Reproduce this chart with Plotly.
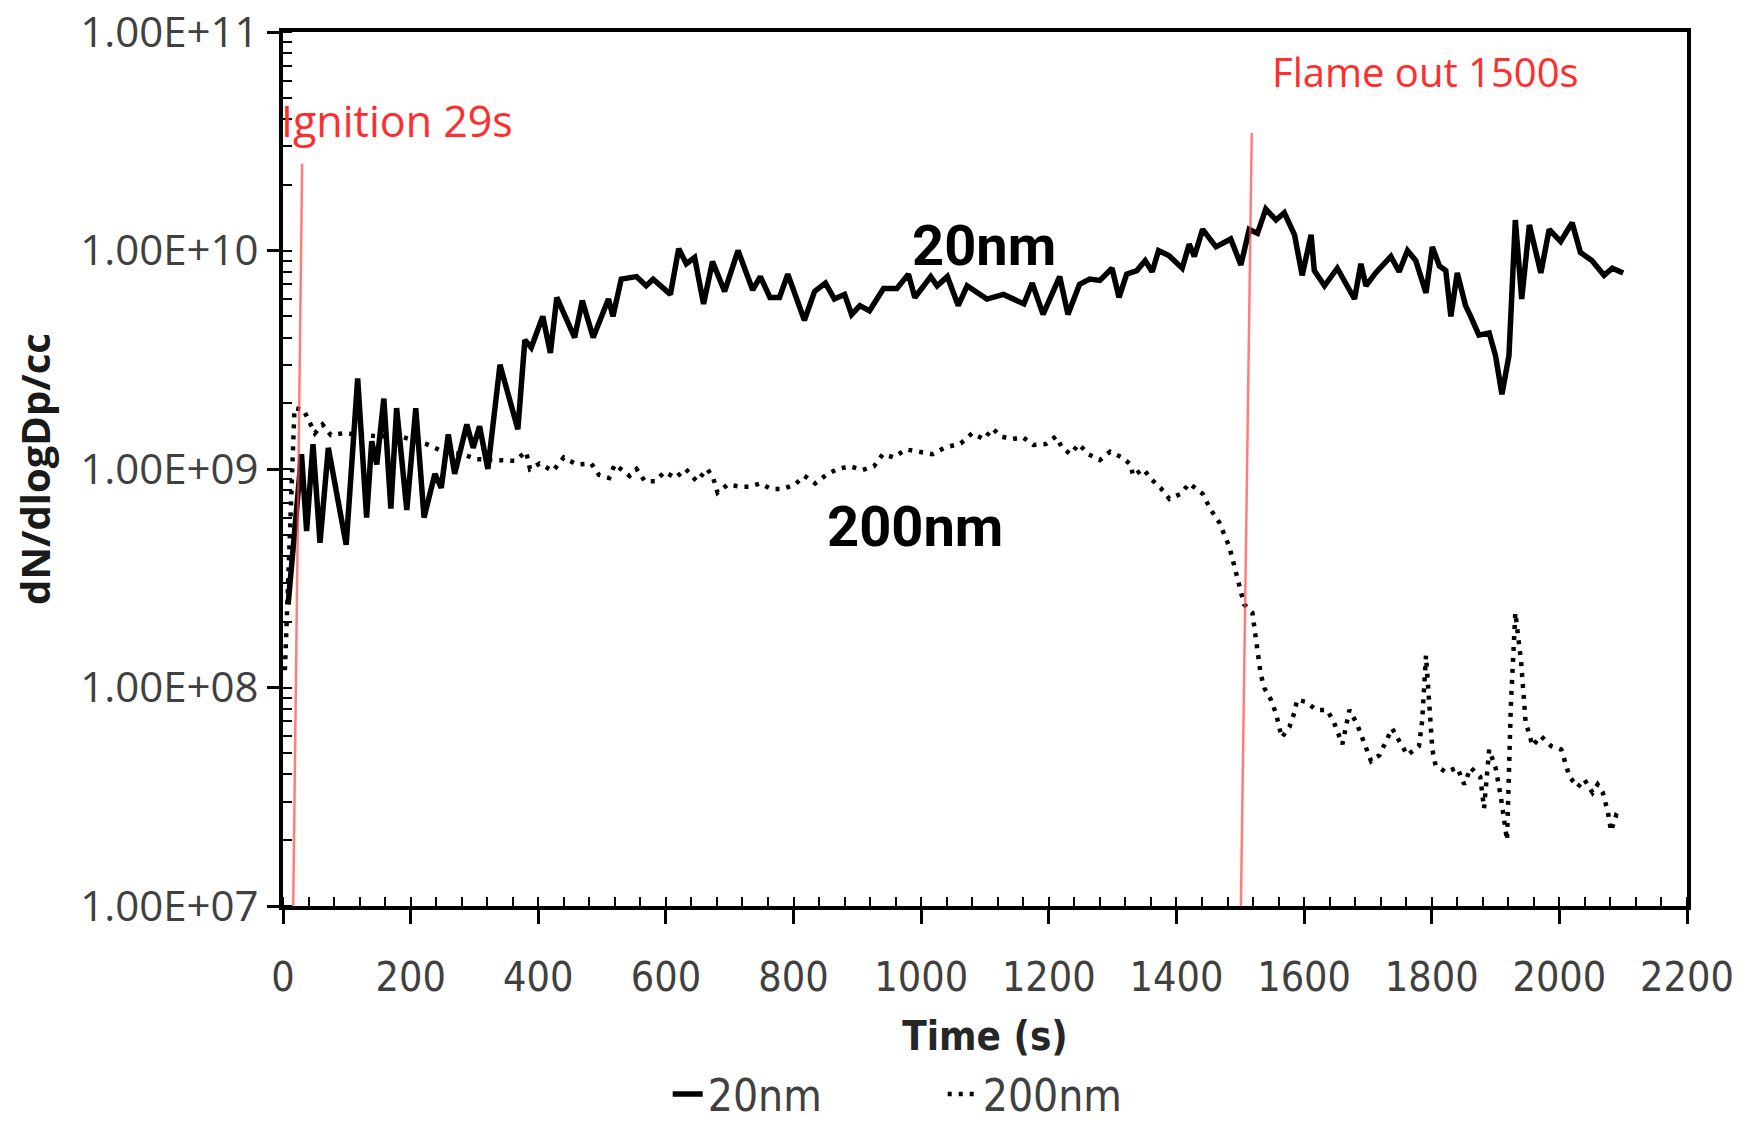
import plotly.graph_objects as go

# ---------------- data ----------------
time_20nm = [8, 29, 37, 47, 58, 71, 99, 117, 131, 139, 147, 158, 169, 178, 194, 208, 221, 238,
             248, 259, 269, 288, 298, 308, 321, 340, 368, 379, 389, 407, 419, 429, 457, 469,
             486, 510, 517, 530, 554, 569, 580, 607, 620, 632, 645, 659, 673, 692, 713, 736,
             748, 763, 778, 791, 817, 833, 850, 864, 880, 891, 904, 919, 941, 962, 980, 990,
             1015, 1025, 1041, 1058, 1072, 1103, 1129, 1161, 1174, 1191, 1217, 1230, 1248,
             1264, 1280, 1299, 1310, 1322, 1338, 1351, 1362, 1372, 1388, 1409, 1420, 1428,
             1441, 1462, 1485, 1501, 1514, 1527, 1540, 1556, 1569, 1585, 1597, 1611, 1616,
             1632, 1652, 1679, 1689, 1697, 1712, 1736, 1749, 1762, 1775, 1791, 1801, 1812,
             1822, 1830, 1840, 1853, 1861, 1874, 1890, 1900, 1910, 1921, 1931, 1941, 1953,
             1971, 1984, 2002, 2020, 2033, 2051, 2070, 2083, 2100]
conc_20nm = [2.4e8, 1.17e9, 5.2e8, 1.3e9, 4.6e8, 1.25e9, 4.5e8, 2.6e9, 6.0e8, 1.34e9, 1.05e9,
             2.1e9, 6.6e8, 1.9e9, 6.5e8, 1.9e9, 6.0e8, 9.5e8, 8.2e8, 1.44e9, 9.5e8, 1.6e9,
             1.25e9, 1.57e9, 1.0e9, 3.0e9, 1.52e9, 3.9e9, 3.6e9, 5.0e9, 3.4e9, 6.1e9, 4.0e9,
             5.9e9, 4.0e9, 6.0e9, 5.0e9, 7.4e9, 7.6e9, 6.9e9, 7.4e9, 6.3e9, 1.02e10, 8.7e9,
             9.3e9, 5.7e9, 8.9e9, 6.5e9, 1.0e10, 6.6e9, 7.6e9, 6.1e9, 6.1e9, 7.8e9, 4.8e9,
             6.5e9, 7.1e9, 6.0e9, 6.3e9, 5.1e9, 5.6e9, 5.3e9, 6.7e9, 6.7e9, 7.8e9, 6.1e9,
             7.6e9, 6.9e9, 7.6e9, 5.6e9, 6.9e9, 6.0e9, 6.3e9, 5.7e9, 7.1e9, 5.1e9, 7.6e9,
             5.1e9, 7.0e9, 7.4e9, 7.3e9, 8.3e9, 6.1e9, 7.8e9, 8.1e9, 9.0e9, 8.0e9, 1.0e10,
             9.5e9, 8.3e9, 1.07e10, 9.4e9, 1.25e10, 1.04e10, 1.13e10, 8.6e9, 1.25e10, 1.2e10,
             1.55e10, 1.38e10, 1.49e10, 1.18e10, 7.7e9, 1.18e10, 8.1e9, 6.9e9, 8.3e9, 6.0e9,
             8.7e9, 6.9e9, 7.9e9, 9.4e9, 8.0e9, 1.0e10, 9.0e9, 6.4e9, 1.04e10, 8.5e9, 8.1e9,
             5.0e9, 7.9e9, 5.6e9, 5.0e9, 4.1e9, 4.2e9, 3.3e9, 2.2e9, 3.3e9, 1.38e10, 6.0e9,
             1.31e10, 7.9e9, 1.25e10, 1.1e10, 1.34e10, 9.8e9, 9.0e9, 7.7e9, 8.3e9, 7.9e9]

time_200nm = [3, 18, 32, 41, 50, 62, 75, 95, 140, 188, 225, 251, 282, 303, 345, 363, 381, 387,
              402, 423, 440, 460, 483, 495, 511, 520, 543, 554, 567, 583, 598, 615, 631, 648,
              665, 674, 681, 697, 716, 731, 748, 765, 783, 802, 817, 834, 851, 869, 888, 908,
              926, 940, 957, 976, 996, 1018, 1036, 1062, 1080, 1098, 1112, 1125, 1143, 1159,
              1176, 1195, 1211, 1221, 1234, 1247, 1262, 1280, 1296, 1315, 1328, 1332, 1348,
              1362, 1375, 1389, 1407, 1420, 1441, 1454, 1467, 1483, 1494, 1506, 1519, 1525,
              1532, 1538, 1548, 1556, 1565, 1577, 1585, 1589, 1603, 1619, 1636, 1647, 1660,
              1671, 1683, 1691, 1705, 1718, 1728, 1738, 1749, 1762, 1780, 1785, 1791, 1798,
              1801, 1806, 1822, 1840, 1851, 1861, 1876, 1882, 1890, 1900, 1908, 1918, 1924,
              1931, 1940, 1947, 1958, 1971, 1987, 2003, 2016, 2029, 2039, 2052, 2060, 2068,
              2076, 2081, 2089, 2100]
conc_200nm = [1.2e8, 1.9e9, 1.87e9, 1.63e9, 1.46e9, 1.6e9, 1.43e9, 1.46e9, 1.42e9, 1.4e9,
              1.3e9, 1.2e9, 1.17e9, 1.11e9, 1.09e9, 1.09e9, 1.2e9, 1.0e9, 1.06e9, 9.8e8,
              1.13e9, 1.05e9, 1.06e9, 9.4e8, 9.1e8, 1.05e9, 9.3e8, 1.0e9, 8.8e8, 8.8e8, 9.7e8,
              9.1e8, 1.0e9, 8.8e8, 1.0e9, 9.1e8, 7.8e8, 8.5e8, 8.3e8, 8.3e8, 8.6e8, 8.1e8,
              8.1e8, 8.5e8, 9.3e8, 8.6e8, 9.4e8, 1.0e9, 1.03e9, 9.9e8, 1.03e9, 1.17e9, 1.13e9,
              1.23e9, 1.2e9, 1.17e9, 1.25e9, 1.31e9, 1.46e9, 1.37e9, 1.53e9, 1.41e9, 1.37e9,
              1.4e9, 1.29e9, 1.3e9, 1.41e9, 1.25e9, 1.17e9, 1.3e9, 1.17e9, 1.1e9, 1.2e9,
              1.13e9, 1.05e9, 9.3e8, 1.0e9, 8.9e8, 8.2e8, 7.3e8, 7.7e8, 8.6e8, 7.7e8, 6.5e8,
              5.7e8, 4.4e8, 3.3e8, 2.4e8, 2.2e8, 1.6e8, 1.15e8, 9.9e7, 8.8e7, 7.6e7, 5.9e7,
              6.6e7, 7.7e7, 8.8e7, 8.6e7, 7.9e7, 7.9e7, 6.9e7, 5.5e7, 7.9e7, 6.8e7, 5.9e7,
              4.6e7, 4.9e7, 5.7e7, 6.5e7, 5.7e7, 4.9e7, 5.4e7, 7.0e7, 1.4e8, 7.0e7, 5.2e7,
              4.4e7, 4.1e7, 4.3e7, 3.6e7, 4.3e7, 3.9e7, 2.8e7, 5.2e7, 4.3e7, 3.2e7, 2.0e7,
              8.3e7, 2.2e8, 1.32e8, 7.0e7, 5.4e7, 6.0e7, 5.4e7, 5.2e7, 3.9e7, 3.5e7, 3.8e7,
              3.3e7, 3.6e7, 3.3e7, 2.7e7, 2.2e7, 2.6e7, 2.5e7]

series_names = ["20nm", "200nm"]

x_tickvals = [0, 200, 400, 600, 800, 1000, 1200, 1400, 1600, 1800, 2000, 2200]
y_tickvals = [1e7, 1e8, 1e9, 1e10, 1e11]
y_ticktext = ["1.00E+07", "1.00E+08", "1.00E+09", "1.00E+10", "1.00E+11"]

# event marker lines (slightly slanted red lines in the original)
ignition_t = [16, 30]
ignition_y = [1.0e7, 2.5e10]
flameout_t = [1501, 1518]
flameout_y = [1.0e7, 3.45e10]
event_labels = ["Ignition 29s", "Flame out 1500s"]

# ---------------- figure ----------------
NARROW = "Liberation Sans Narrow, DejaVu Sans Condensed, Roboto Condensed, Roboto, sans-serif"
REG = "Open Sans, Roboto, sans-serif"
GREY = "#404040"
RED_LINE = "rgba(255,70,70,0.7)"
RED_TEXT = "#ff2d2d"

fig = go.Figure()
fig.add_trace(go.Scatter(x=time_20nm, y=conc_20nm, mode="lines", name=series_names[0],
                         line=dict(color="black", width=5.5)))
fig.add_trace(go.Scatter(x=time_200nm, y=conc_200nm, mode="lines", name=series_names[1],
                         line=dict(color="black", width=4.5, dash="4px,7px")))
fig.add_trace(go.Scatter(x=ignition_t, y=ignition_y, mode="lines", showlegend=False,
                         hoverinfo="skip", line=dict(color=RED_LINE, width=2.5)))
fig.add_trace(go.Scatter(x=flameout_t, y=flameout_y, mode="lines", showlegend=False,
                         hoverinfo="skip", line=dict(color=RED_LINE, width=2.5)))

fig.update_layout(
    width=1754, height=1130,
    margin=dict(l=283, r=67, t=32, b=224, autoexpand=False),
    paper_bgcolor="white", plot_bgcolor="white",
    showlegend=True,
    legend=dict(orientation="h", xref="paper", yref="container",
                x=0.274, y=-0.011, xanchor="left", yanchor="bottom",
                font=dict(family=NARROW, size=44, color=GREY),
                entrywidth=230, entrywidthmode="pixels",
                bgcolor="rgba(0,0,0,0)"),
    xaxis=dict(
        range=[0, 2200], tickmode="array", tickvals=x_tickvals,
        ticks="outside", ticklen=14, tickwidth=2.5, tickcolor="black",
        showline=True, linecolor="black", linewidth=4, mirror=True,
        showgrid=False, zeroline=False,
        tickfont=dict(family=NARROW, size=41, color=GREY),
        ticklabelstandoff=18,
        minor=dict(ticks="inside", dtick=40, ticklen=9, tickwidth=2, tickcolor="black",
                   showgrid=False),
        title=dict(text="Time (s)", standoff=48,
                   font=dict(family=NARROW, size=40, color="#262626", weight="bold")),
    ),
    yaxis=dict(
        type="log", range=[7, 11.0004], tickmode="array", tickvals=y_tickvals,
        ticktext=y_ticktext, ticklabeloverflow="allow",
        ticks="outside", ticklen=12, tickwidth=2.5, tickcolor="black",
        showline=True, linecolor="black", linewidth=4, mirror=True,
        showgrid=False, zeroline=False,
        tickfont=dict(family=REG, size=42, color=GREY),
        minor=dict(ticks="inside", dtick="D1", ticklen=9, tickwidth=2, tickcolor="black",
                   showgrid=False),
        title=dict(text="dN/dlogDp/cc", standoff=18,
                   font=dict(family=REG, size=40, color="#1a1a1a", weight="bold")),
    ),
    annotations=[
        dict(x=0, y=10.595, xref="x", yref="y", text=event_labels[0], showarrow=False,
             xanchor="left", yanchor="middle", xshift=-4,
             font=dict(family=REG, size=43, color=RED_TEXT)),
        dict(x=1791, y=10.82, xref="x", yref="y", text=event_labels[1], showarrow=False,
             xanchor="center", yanchor="middle",
             font=dict(family=REG, size=40, color=RED_TEXT)),
        dict(x=1098, y=10.02, xref="x", yref="y", text=series_names[0], showarrow=False,
             xanchor="center", yanchor="middle",
             font=dict(family="Roboto, sans-serif", size=56, color="black", weight="bold")),
        dict(x=990, y=8.736, xref="x", yref="y", text=series_names[1], showarrow=False,
             xanchor="center", yanchor="middle",
             font=dict(family="Roboto, sans-serif", size=56, color="black", weight="bold")),
    ],
)

fig.write_html("out.html")
